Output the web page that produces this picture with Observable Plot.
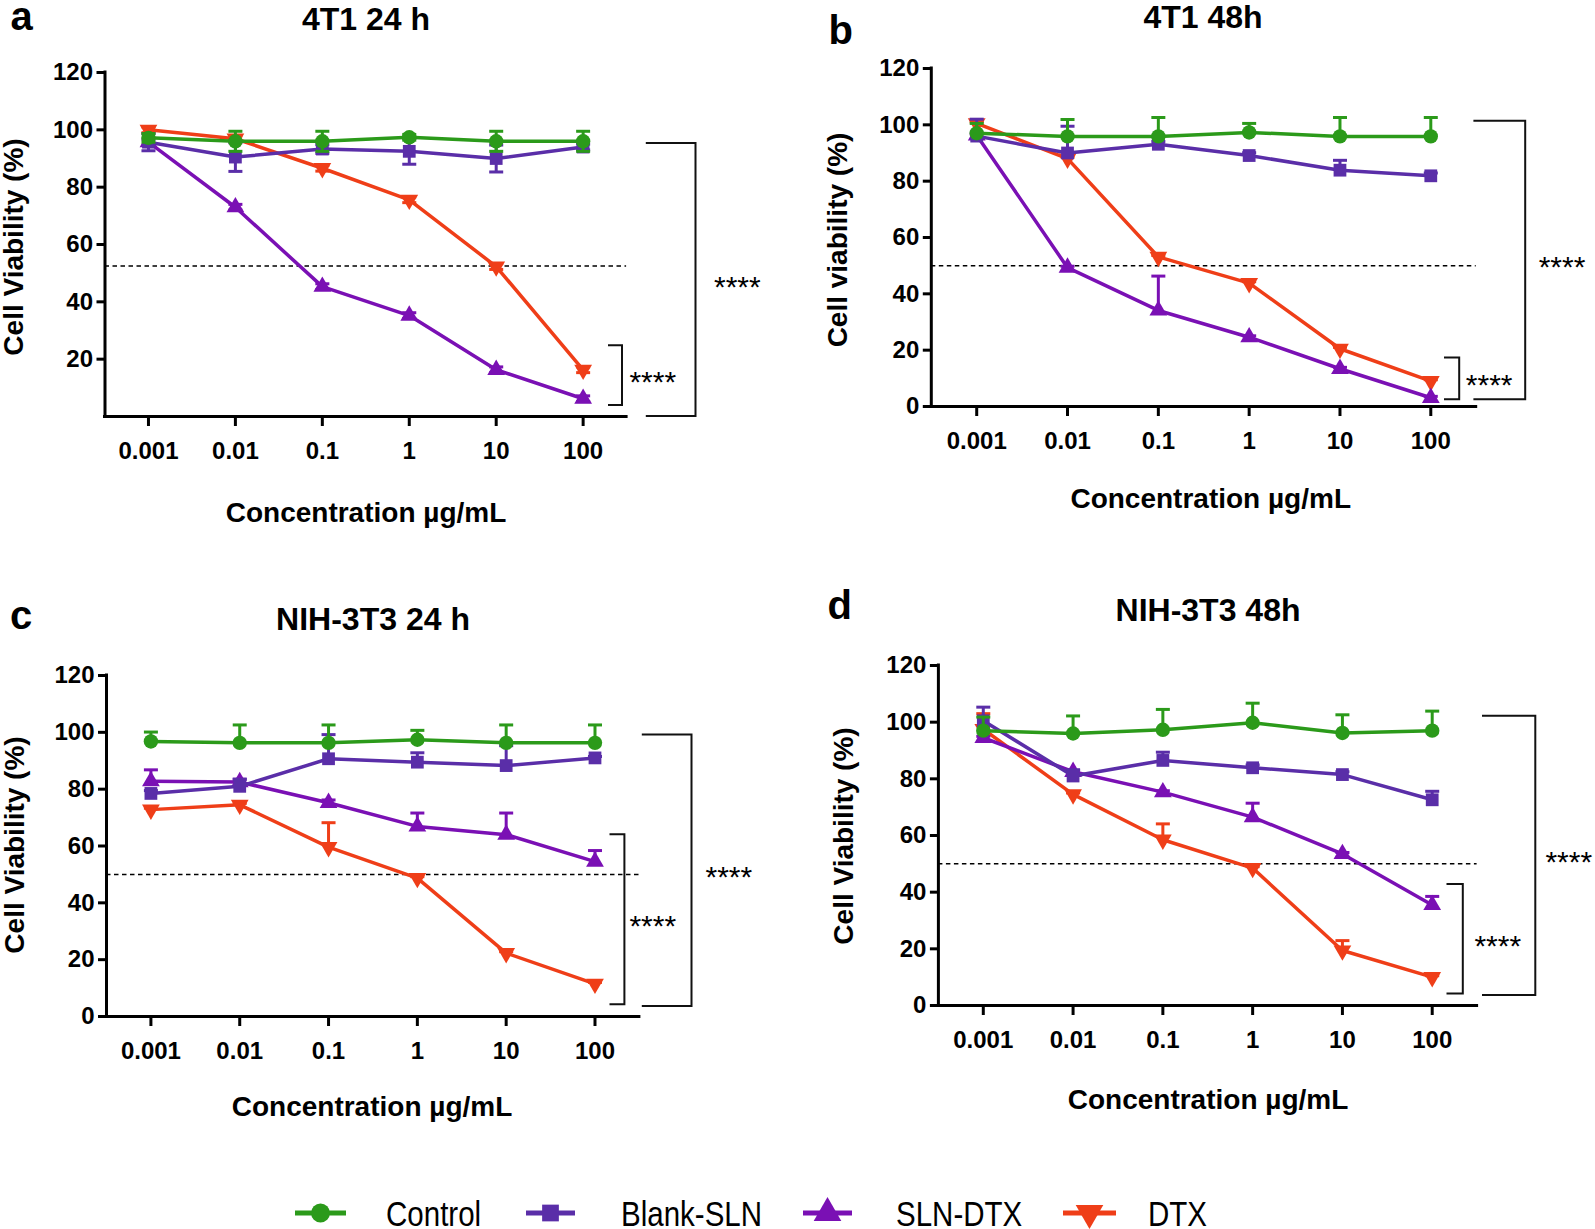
<!DOCTYPE html>
<html><head><meta charset="utf-8">
<script src="https://cdn.jsdelivr.net/npm/d3@7"></script>
<script src="https://cdn.jsdelivr.net/npm/@observablehq/plot@0.6"></script>
<style>
html,body{margin:0;padding:0;background:#fff;}
#root{position:relative;width:1595px;height:1229px;overflow:hidden;background:#fff;}
.panel{position:absolute;}
#overlay{position:absolute;left:0;top:0;}
</style></head><body><div id="root"></div>
<script>
// ---------- data ----------
const concentrations = [0.001, 0.01, 0.1, 1, 10, 100];
const concentrationLabels = ["0.001", "0.01", "0.1", "1", "10", "100"];
const seriesNames = ["Control", "Blank-SLN", "SLN-DTX", "DTX"];
const panelLetters = ["a", "b", "c", "d"];
const panelTitles = ["4T1 24 h", "4T1 48h", "NIH-3T3 24 h", "NIH-3T3 48h"];
const yLabels = ["Cell Viability (%)", "Cell viability (%)", "Cell Viability (%)", "Cell Viability (%)"];
const xLabel = "Concentration µg/mL";
const yTicksA = [20, 40, 60, 80, 100, 120];
const yTicksFull = [0, 20, 40, 60, 80, 100, 120];
const thresholds = [52.5, 50, 50, 50];
const bracketsOuter = [[0, 95.2], [2.4, 101.3], [3.5, 99.1], [3.5, 102.1]];
const bracketsInner = [[3.8, 24.7], [2.4, 17.2], [4.1, 64], [4.1, 42.7]];
const significance = "****";

// panel a: 4T1 24 h (mean, error)
const a_control = [97.2, 96, 96, 97.4, 96, 96];
const a_controlErr = [1.5, 3.5, 3.5, 1, 3.5, 3.5];
const a_blank = [95.7, 90.5, 93.3, 92.5, 90, 94];
const a_blankErr = [3, 5, 1.5, 4.5, 4.7, 1];
const a_slnDtx = [95.7, 73, 45.3, 35.2, 16.3, 6.2];
const a_slnDtxErr = [1, 1, 1, 1, 1, 1];
const a_dtx = [100, 96.9, 86.6, 75.6, 52.3, 16.3];
const a_dtxErr = [1, 1, 1, 1, 1, 1];

// panel b: 4T1 48h
const b_control = [97, 95.9, 95.9, 97.3, 95.9, 95.9];
const b_controlErr = [3.5, 6, 6.7, 3.2, 6.7, 6.7];
const b_blank = [96, 90, 93.1, 89.1, 83.9, 81.9];
const b_blankErr = [6, 9.5, 1, 1, 3.5, 1];
const b_slnDtx = [96.3, 49.3, 34.1, 24.6, 13.4, 3.1];
const b_slnDtxErr = [0.5, 0.5, 12.2, 0.5, 0.5, 0.5];
const b_dtx = [100.5, 88, 53.1, 43.8, 20.5, 9];
const b_dtxErr = [0.5, 0.5, 0.5, 0.5, 0.5, 0.5];

// panel c: NIH-3T3 24 h
const c_control = [96.8, 96.3, 96.3, 97.4, 96.3, 96.3];
const c_controlErr = [3.3, 6.3, 6.3, 3.3, 6.3, 6.3];
const c_blank = [78.5, 81, 90.7, 89.5, 88.3, 91];
const c_blankErr = [1, 2.5, 8.5, 3.3, 7, 0.5];
const c_slnDtx = [82.8, 82.5, 75.2, 66.9, 64, 54.5];
const c_slnDtxErr = [4, 1, 1, 4.7, 7.6, 3.9];
const c_dtx = [72.8, 74.5, 59.6, 48.7, 22.3, 11.5];
const c_dtxErr = [0.5, 0.5, 8.6, 0.5, 0.5, 0.5];

// panel d: NIH-3T3 48h
const d_control = [97, 96, 97.3, 99.8, 96.2, 97];
const d_controlErr = [4.8, 6.2, 7.2, 6.9, 6.4, 6.9];
const d_blank = [100.5, 81, 86.5, 83.9, 81.5, 72.6];
const d_blankErr = [4.8, 2.2, 2.9, 1, 1, 3];
const d_slnDtx = [94.5, 82.5, 75.3, 66.5, 53.5, 35.5];
const d_slnDtxErr = [0.5, 0.5, 0.5, 4.9, 0.5, 3];
const d_dtx = [97.5, 74.5, 58.5, 48.5, 19.4, 10];
const d_dtxErr = [5.5, 0.5, 5.6, 0.5, 3.5, 0.5];

// ---------- styles & layout ----------
const sqrt3 = Math.sqrt(3);
const triangleDown = {draw(ctx, size) {
  const y = -Math.sqrt(size / (sqrt3 * 3));
  ctx.moveTo(0, -2 * y); ctx.lineTo(-sqrt3 * y, y); ctx.lineTo(sqrt3 * y, y); ctx.closePath();
}};
const capSymbol = {draw(ctx) { ctx.moveTo(-7, 0); ctx.lineTo(7, 0); }};
const seriesStyles = [
  {color: "#2b9a1a", symbol: "circle", r: 7.2, d3sym: d3.symbolCircle},
  {color: "#5a2ea8", symbol: "square", r: 7.2, d3sym: d3.symbolSquare},
  {color: "#7a10b4", symbol: "triangle", r: 6.6, d3sym: d3.symbolTriangle},
  {color: "#ef3e18", symbol: triangleDown, r: 6.6, d3sym: triangleDown}
];
const FONT = "'Liberation Sans', Arial, Helvetica, sans-serif";

const panels = [
  {values: [a_control, a_blank, a_slnDtx, a_dtx], errors: [a_controlErr, a_blankErr, a_slnDtxErr, a_dtxErr], yTicks: yTicksA, symmetric: true,
   layout: {left: 0, top: 0, width: 790, height: 540, marginLeft: 104.5, marginRight: 163.9, marginTop: 72, marginBottom: 124,
     outer: [19.7, 69.4, 87.9], inner: [-18.1, -4.1, 3.3],
     letter: [21.5, 19.5], title: [366, 18], ylab: [15, 247], xlab: [366, 511.5]}},
  {values: [b_control, b_blank, b_slnDtx, b_dtx], errors: [b_controlErr, b_blankErr, b_slnDtxErr, b_dtxErr], yTicks: yTicksFull, symmetric: false,
   layout: {left: 800, top: 0, width: 795, height: 540, marginLeft: 130.8, marginRight: 119.3, marginTop: 68, marginBottom: 134,
     outer: [-2.3, 49.5, 63], inner: [-31.7, -16.5, -9.9],
     letter: [840.6, 29.5], title: [1203, 16], ylab: [839, 240], xlab: [1210.7, 497.5]}},
  {values: [c_control, c_blank, c_slnDtx, c_dtx], errors: [c_controlErr, c_blankErr, c_slnDtxErr, c_dtxErr], yTicks: yTicksFull, symmetric: false,
   layout: {left: 0, top: 580, width: 790, height: 560, marginLeft: 106, marginRight: 151.1, marginTop: 95, marginBottom: 124,
     outer: [2.9, 52.6, 66.6], inner: [-29.4, -14.5, -9.5],
     letter: [21, 619], title: [373, 618], ylab: [15.5, 845], xlab: [372, 1106]}},
  {values: [d_control, d_blank, d_slnDtx, d_dtx], errors: [d_controlErr, d_blankErr, d_slnDtxErr, d_dtxErr], yTicks: yTicksFull, symmetric: false,
   layout: {left: 800, top: 570, width: 795, height: 570, marginLeft: 137.9, marginRight: 118.4, marginTop: 95, marginBottom: 135,
     outer: [5.4, 58.7, 68.8], inner: [-30.1, -13.8, -2.2],
     letter: [839.6, 604], title: [1208, 609], ylab: [845, 836], xlab: [1208, 1099]}}
];
const legendLayout = {y: 1213, items: [
  {line: [295, 346], text: 386},
  {line: [526, 575], text: 621},
  {line: [803, 852], text: 896},
  {line: [1063, 1116], text: 1148}
]};

const labelOf = new Map(concentrations.map((c, i) => [c, concentrationLabels[i]]));
const root = document.getElementById("root");

function buildPanel(p, idx) {
  const L = p.layout;
  const xDomain = [10 ** -3.5, 10 ** 2.5];
  const marks = [
    Plot.ruleY([thresholds[idx]], {x1: xDomain[0], x2: xDomain[1], stroke: "#000", strokeWidth: 1.5, strokeDasharray: "4.5,3.5"})
  ];
  for (const k of [3, 2, 1, 0]) {
    const s = seriesStyles[k];
    const vals = p.values[k], errs = p.errors[k];
    const rows = concentrations.map((c, i) => ({c, v: vals[i], hi: vals[i] + errs[i], lo: p.symmetric ? vals[i] - errs[i] : vals[i]}));
    marks.push(Plot.ruleX(rows, {x: "c", y1: "lo", y2: "hi", stroke: s.color, strokeWidth: 3}));
    marks.push(Plot.dot(rows, {x: "c", y: "hi", symbol: capSymbol, stroke: s.color, fill: "none", strokeWidth: 3}));
    if (p.symmetric) marks.push(Plot.dot(rows, {x: "c", y: "lo", symbol: capSymbol, stroke: s.color, fill: "none", strokeWidth: 3}));
    marks.push(Plot.line(rows, {x: "c", y: "v", stroke: s.color, strokeWidth: 3.5}));
    marks.push(Plot.dot(rows, {x: "c", y: "v", symbol: s.symbol, fill: s.color, r: s.r}));
  }
  marks.push(Plot.ruleX([xDomain[0]], {y1: 0, y2: 120, stroke: "#000", strokeWidth: 3, strokeLinecap: "square"}));
  marks.push(Plot.ruleY([0], {x1: xDomain[0], x2: xDomain[1], stroke: "#000", strokeWidth: 3, strokeLinecap: "square"}));
  marks.push(Plot.axisX({ticks: concentrations, tickFormat: d => labelOf.get(d), tickSize: 10, tickPadding: 15, strokeWidth: 3, label: null}));
  marks.push(Plot.axisY({ticks: p.yTicks, tickFormat: d => String(d), tickSize: 8, tickPadding: 4, strokeWidth: 3, label: null}));

  const plot = Plot.plot({
    width: L.width, height: L.height,
    marginLeft: L.marginLeft, marginRight: L.marginRight, marginTop: L.marginTop, marginBottom: L.marginBottom,
    x: {type: "log", domain: xDomain},
    y: {domain: [0, 120]},
    style: {fontFamily: FONT, fontSize: "24px", fontWeight: "bold", color: "#000", background: "transparent", overflow: "visible"},
    marks
  });
  const y = plot.scale("y");
  const svg = d3.select(plot);
  const fr = L.width - L.marginRight;
  const drawBracket = (b, off) => {
    const x0 = fr + off[0], x1 = fr + off[1];
    const yt = y.apply(b[1]), yb = y.apply(b[0]);
    svg.append("path").attr("d", `M${x0},${yt}H${x1}V${yb}H${x0}`)
      .attr("fill", "none").attr("stroke", "#111").attr("stroke-width", 2);
    svg.append("text").attr("x", fr + off[2]).attr("y", y.apply((b[0] + b[1]) / 2) + 17)
      .attr("text-anchor", "start")
      .attr("font-family", FONT).attr("font-size", 30).attr("font-weight", "normal").attr("fill", "#000")
      .text(significance);
  };
  drawBracket(bracketsOuter[idx], L.outer);
  drawBracket(bracketsInner[idx], L.inner);

  const wrap = document.createElement("div");
  wrap.className = "panel";
  wrap.style.left = L.left + "px";
  wrap.style.top = L.top + "px";
  wrap.appendChild(plot);
  root.appendChild(wrap);
}
panels.forEach(buildPanel);

// ---------- overlay text & legend ----------
const ov = d3.select(root).append("svg").attr("id", "overlay").attr("width", 1595).attr("height", 1229)
  .style("pointer-events", "none");
function txt(x, y, s, size, weight, opts = {}) {
  const t = ov.append("text").attr("font-family", FONT).attr("font-size", size).attr("font-weight", weight)
    .attr("fill", "#000").attr("text-anchor", opts.anchor || "middle").text(s);
  let tr = `translate(${x},${y})`;
  if (opts.rotate) tr += ` rotate(${opts.rotate})`;
  if (opts.sx) tr += ` scale(${opts.sx},1)`;
  t.attr("transform", tr);
  return t;
}
panels.forEach((p, i) => {
  const L = p.layout;
  const lower = (panelLetters[i] === "a" || panelLetters[i] === "c") ? 0.26 : 0.365;
  txt(L.letter[0], L.letter[1] + lower * 40, panelLetters[i], 40, "bold");
  txt(L.title[0], L.title[1] + 0.36 * 32, panelTitles[i], 32, "bold");
  txt(L.ylab[0] + 0.3 * 28, L.ylab[1], yLabels[i], 28, "bold", {rotate: -90});
  txt(L.xlab[0], L.xlab[1] + 0.36 * 28, xLabel, 28, "bold");
});
legendLayout.items.forEach((it, k) => {
  const s = seriesStyles[k];
  const yy = legendLayout.y;
  ov.append("line").attr("x1", it.line[0]).attr("x2", it.line[1]).attr("y1", yy).attr("y2", yy)
    .attr("stroke", s.color).attr("stroke-width", 5);
  const size = k >= 2 ? 330 : 280;
  ov.append("path").attr("d", d3.symbol(s.d3sym, size)())
    .attr("transform", `translate(${(it.line[0] + it.line[1]) / 2},${yy})`).attr("fill", s.color);
  txt(it.text, yy + 0.36 * 36, seriesNames[k], 36, "normal", {anchor: "start", sx: 0.82});
});
</script></body></html>
